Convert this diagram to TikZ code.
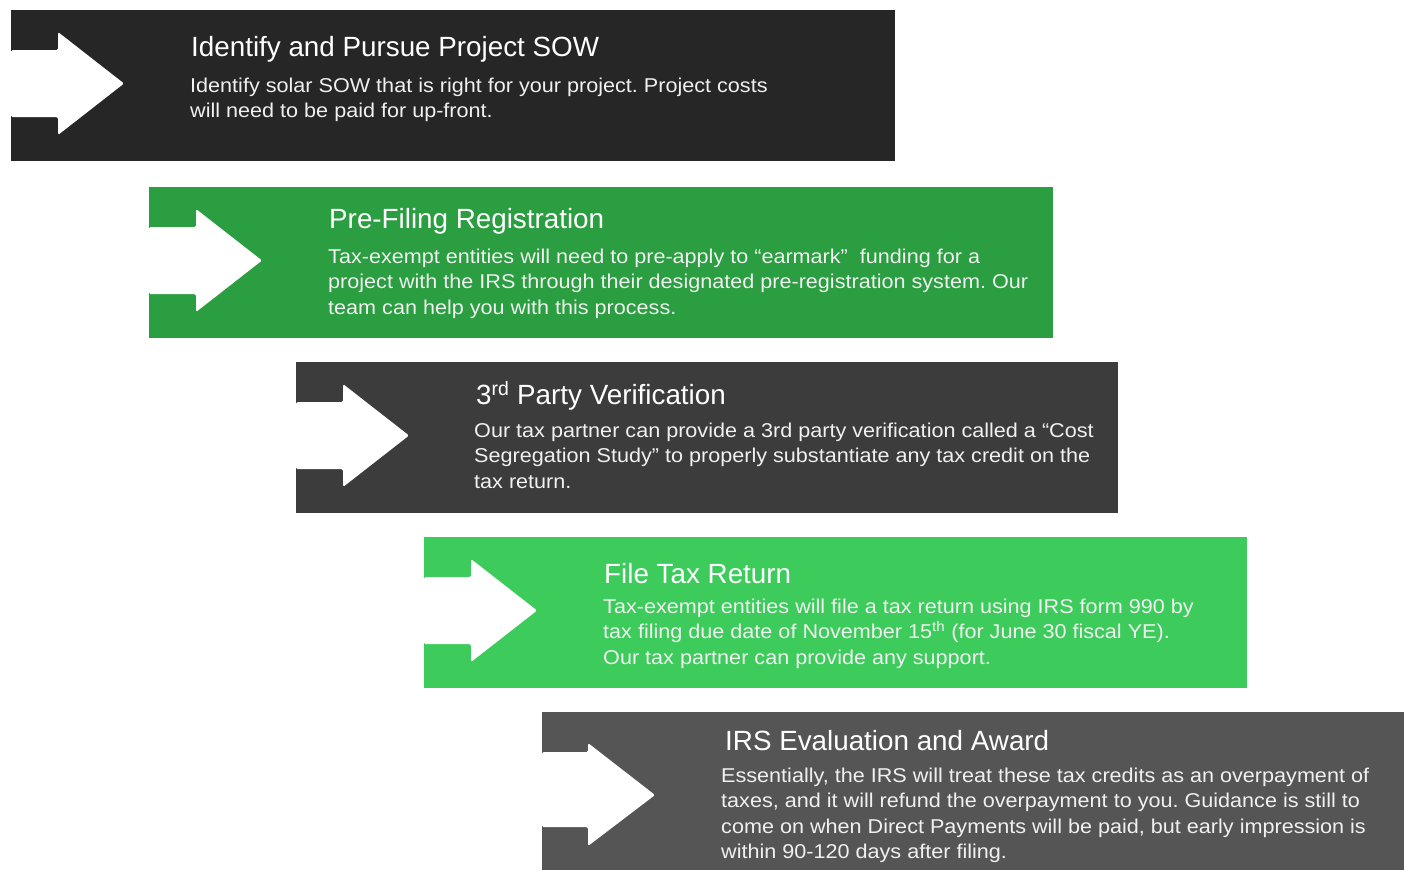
\documentclass[tikz,border=0pt]{standalone}
\usepackage{fontspec}
\setmainfont{Liberation Sans}
\newfontfamily\bodyfont{Liberation Sans}[FakeStretch=1.08]
\usetikzlibrary{calc}
\definecolor{cA}{HTML}{262626}
\definecolor{cB}{HTML}{2A9E40}
\definecolor{cC}{HTML}{3C3C3C}
\definecolor{cD}{HTML}{3DCC5C}
\definecolor{cE}{HTML}{555555}
\tikzset{
  banner/.style={anchor=north west, inner sep=0pt, outer sep=0pt, minimum width=#1},
  ttl/.style={anchor=west, inner sep=0pt, text=white, font=\fontsize{27.8}{32}\selectfont},
  body/.style={anchor=north west, inner sep=0pt, text=white!94!black, align=left, font=\bodyfont\fontsize{20}{25.5}\selectfont\frenchspacing},
  arr/.style={fill=white, rounded corners=1.5pt}
}
\begin{document}
\begin{tikzpicture}[x=1pt,y=-1pt]
\useasboundingbox (0,0) rectangle (1404,870);
% banners
\node[banner=884pt, minimum height=151pt, fill=cA] (b1) at (11,10) {};
\node[banner=904pt, minimum height=151pt, fill=cB] (b2) at (149,187) {};
\node[banner=822pt, minimum height=151pt, fill=cC] (b3) at (296,362) {};
\node[banner=823pt, minimum height=151pt, fill=cD] (b4) at (424,537) {};
\node[banner=862pt, minimum height=158pt, fill=cE] (b5) at (542,712) {};
% arrows
\foreach \b in {b1,b2,b3,b4}{
  \begin{scope}[shift={(\b.north west)}]
    \fill[arr] (0,40) -- (47,40) -- (47,22) -- (113,73.5) -- (47,125) -- (47,107) -- (0,107) -- cycle;
  \end{scope}
}
\begin{scope}[shift={(b5.north west)}]
  \fill[arr] (0,40) -- (46,40) -- (46,31) -- (113,83) -- (46,134) -- (46,115) -- (0,115) -- cycle;
\end{scope}
% texts
\node[ttl] (t1) at (191,49) {Identify and Pursue Project SOW};
\node[body] (d1) at (190,77.5) {Identify solar SOW that is right for your project. Project costs\\will need to be paid for up-front.};
\node[ttl] (t2) at (329,221) {Pre-Filing Registration};
\node[body] (d2) at (328,248.5) {Tax-exempt entities will need to pre-apply to “earmark”\ \ funding for a\\project with the IRS through their designated pre-registration system. Our\\team can help you with this process.};
\node[ttl] (t3) at (476,396) {3\textsuperscript{rd} Party Verification};
\node[body] (d3) at (474,422.5) {Our tax partner can provide a 3rd party verification called a “Cost\\Segregation Study” to properly substantiate any tax credit on the\\tax return.};
\node[ttl] (t4) at (604,574) {File Tax Return};
\node[body] (d4) at (603,598.5) {Tax-exempt entities will file a tax return using IRS form 990 by\\tax filing due date of November 15\textsuperscript{th} (for June 30 fiscal YE).\\Our tax partner can provide any support.};
\node[ttl] (t5) at (725,741) {IRS Evaluation and Award};
\node[body] (d5) at (721,767.5) {Essentially, the IRS will treat these tax credits as an overpayment of\\taxes, and it will refund the overpayment to you. Guidance is still to\\come on when Direct Payments will be paid, but early impression is\\within 90-120 days after filing.};
\end{tikzpicture}
\end{document}
